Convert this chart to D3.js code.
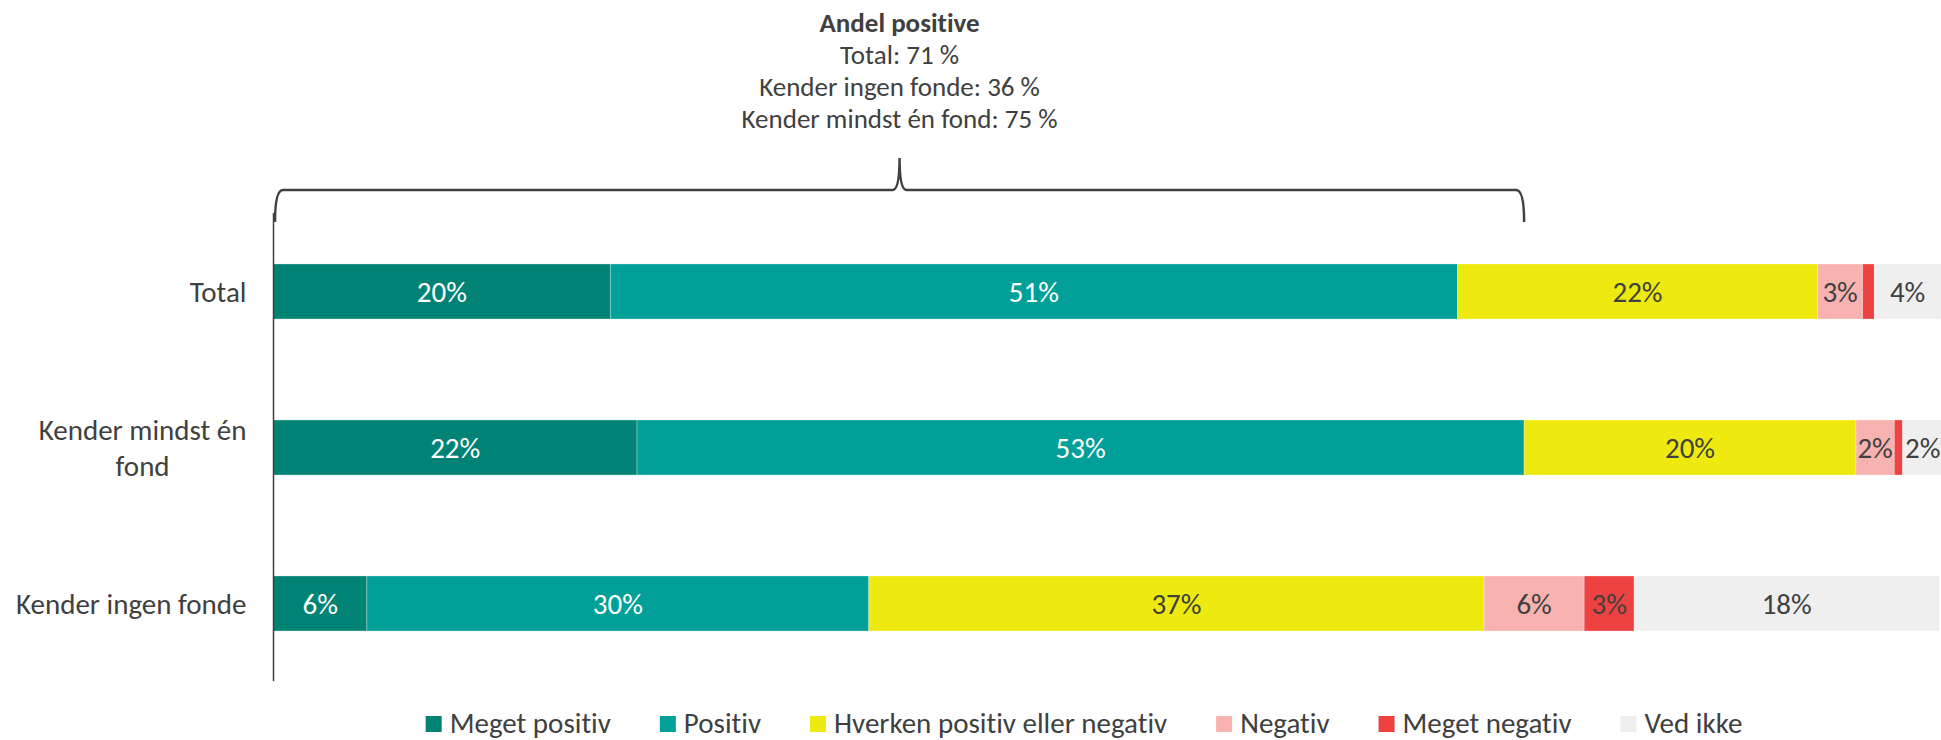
<!DOCTYPE html>
<html>
<head>
<meta charset="utf-8">
<script src="https://cdn.jsdelivr.net/npm/d3@7"></script>
<style>
  html, body { margin: 0; padding: 0; background: #fff; }
  text { font-family: Calibri, Carlito, Lato, sans-serif; fill: #404040; font-variant-ligatures: none; }
</style>
</head>
<body>
<div id="chart"></div>
<script>
// data (percent)
var categories = ['Total', 'Kender mindst én fond', 'Kender ingen fonde'];
var series = ['Meget positiv', 'Positiv', 'Hverken positiv eller negativ', 'Negativ', 'Meget negativ', 'Ved ikke'];
var colors = ['#008375', '#00A099', '#EEEA10', '#F8B3B1', '#EE4242', '#EFEFEF'];
var labelColors = ['#fff', '#fff', '#404040', '#404040', '#404040', '#404040'];
var meget_positiv = [20.2, 21.8, 5.6];
var positiv = [50.8, 53.2, 30.1];
var hverken = [21.6, 19.9, 36.9];
var negativ = [2.7, 2.3, 6.0];
var meget_negativ = [0.7, 0.5, 3.0];
var ved_ikke = [4.0, 2.4, 18.3];
// "Andel positive" box, in the order it is printed
var andelLabels = ['Total', 'Kender ingen fonde', 'Kender mindst én fond'];
var andelPositive = [71, 36, 75];

var width = 1941, height = 740;
var fontSize = '29px';

var svg = d3.select('#chart').append('svg')
   .attr('width', width)
   .attr('height', height);

var x = d3.scaleLinear().domain([0, 100]).range([273.5, 1941]);
var y = d3.scaleBand().domain(categories).range([213.5, 681.5])
   .paddingInner(0.647).paddingOuter(0.3235);

var values = [meget_positiv, positiv, hverken, negativ, meget_negativ, ved_ikke];
var rows = categories.map(function(c, i) {
   var row = { cat: c };
   series.forEach(function(s, j) { row[s] = values[j][i]; });
   return row;
});
var stacked = d3.stack().keys(series)(rows);

// bars
var layers = svg.selectAll('g.layer')
   .data(stacked)
   .enter().append('g')
   .attr('class', 'layer')
   .attr('fill', function(d, i) { return colors[i]; });

layers.selectAll('rect')
   .data(function(d) { return d; })
   .enter().append('rect')
   .attr('x', function(d) { return x(d[0]); })
   .attr('y', function(d) { return y(d.data.cat); })
   .attr('width', function(d) { return x(d[1]) - x(d[0]); })
   .attr('height', y.bandwidth())
   .attr('stroke', '#fff')
   .attr('stroke-opacity', 0.4)
   .attr('stroke-width', 0.75);

// value labels (the tiny red slices carry none)
layers.each(function(layer, i) {
   d3.select(this).selectAll('text')
      .data(layer.filter(function(d) { return d[1] - d[0] >= 1; }))
      .enter().append('text')
      .attr('x', function(d) { return (x(d[0]) + x(d[1])) / 2; })
      .attr('y', function(d) { return y(d.data.cat) + y.bandwidth() / 2 + 10; })
      .attr('text-anchor', 'middle')
      .style('font-size', fontSize)
      .style('fill', labelColors[i])
      .text(function(d) { return Math.round(d[1] - d[0]) + '%'; });
});

// category axis
svg.append('line')
   .attr('x1', x(0)).attr('x2', x(0))
   .attr('y1', 213).attr('y2', 681)
   .attr('stroke', '#404040')
   .attr('stroke-width', 1.5);

var wrap = { 'Kender mindst én fond': ['Kender mindst én', 'fond'] };
var catLabels = svg.selectAll('g.cat')
   .data(categories)
   .enter().append('g')
   .attr('class', 'cat');

catLabels.each(function(c) {
   var lines = wrap[c] || [c];
   var cy = y(c) + y.bandwidth() / 2;
   var t = d3.select(this).selectAll('text')
      .data(lines)
      .enter().append('text')
      .attr('y', function(d, k) { return cy + 10 + (k - (lines.length - 1) / 2) * 36; })
      .style('font-size', fontSize)
      .text(function(d) { return d; });
   // right-align the block, center the lines within it
   var widths = [];
   t.each(function() { widths.push(this.getComputedTextLength()); });
   var right = x(0) - 27;
   t.attr('x', right - d3.max(widths) / 2).attr('text-anchor', 'middle');
});

// brace over the positive share of "Kender mindst én fond"
var bx0 = x(0) + 1.5, bx1 = x(andelPositive[2]), bmid = (bx0 + bx1) / 2;
var by = 190, bend = 222, btop = 158;
svg.append('path')
   .attr('d', 'M' + bx0 + ',' + bend +
      ' Q' + bx0 + ',' + by + ' ' + (bx0 + 8) + ',' + by +
      ' L' + (bmid - 7) + ',' + by +
      ' Q' + bmid + ',' + by + ' ' + bmid + ',' + btop +
      ' Q' + bmid + ',' + by + ' ' + (bmid + 7) + ',' + by +
      ' L' + (bx1 - 8) + ',' + by +
      ' Q' + bx1 + ',' + by + ' ' + bx1 + ',' + bend)
   .attr('fill', 'none')
   .attr('stroke', '#404040')
   .attr('stroke-width', 2.5);

var title = svg.append('text')
   .attr('x', bmid)
   .attr('text-anchor', 'middle')
   .style('font-size', '27px');
title.append('tspan')
   .attr('x', bmid).attr('y', 32)
   .style('font-weight', 'bold')
   .text('Andel positive');
andelLabels.forEach(function(l, i) {
   title.append('tspan')
      .attr('x', bmid).attr('y', 64 + i * 32)
      .text(l + ': ' + andelPositive[i] + ' %');
});

// legend
var legend = svg.append('g');
var items = legend.selectAll('g')
   .data(series)
   .enter().append('g');
items.append('rect')
   .attr('width', 16).attr('height', 16)
   .attr('y', 716)
   .attr('fill', function(d, i) { return colors[i]; });
items.append('text')
   .attr('x', 24).attr('y', 733)
   .style('font-size', fontSize)
   .text(function(d) { return d; });
var pos = 0;
items.each(function() {
   d3.select(this).attr('transform', 'translate(' + pos + ',0)');
   pos += 24 + d3.select(this).select('text').node().getComputedTextLength() + 49;
});
var legendW = pos - 49;
legend.attr('transform', 'translate(' + (1084 - legendW / 2) + ',0)');
</script>
</body>
</html>
